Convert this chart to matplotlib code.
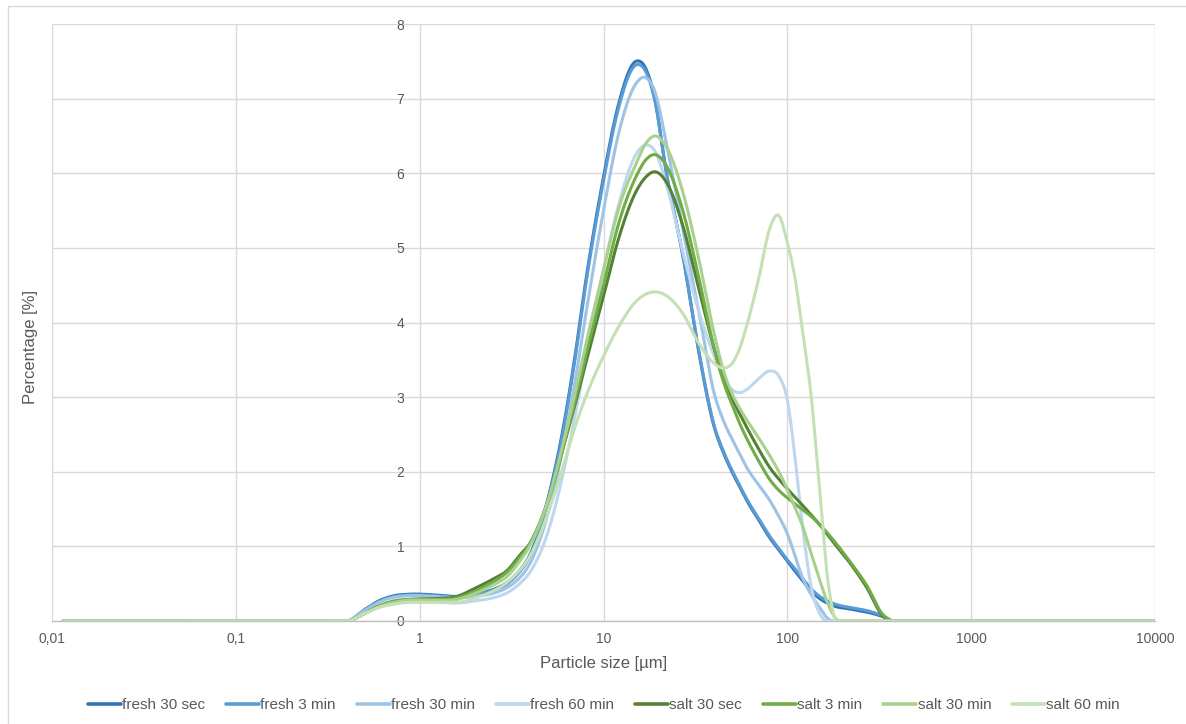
import numpy as np
import matplotlib
matplotlib.use("Agg")
import matplotlib.pyplot as plt
from matplotlib.patches import Rectangle

plt.rcParams['font.family'] = ['Liberation Sans', 'DejaVu Sans']

# ---------------- data ----------------
size_um = [0.0115, 0.4, 0.5, 0.6, 0.7, 0.9, 1.2, 1.6, 2, 2.5, 3, 3.5, 4, 5, 6, 7, 8, 10, 12, 15,
           17, 19, 22, 27, 33, 40, 45, 50, 55, 60, 70, 80, 90, 100, 110, 120, 135, 150, 165, 180,
           220, 270, 330, 380, 10000]

fresh_30sec = [0, 0, 0.15, 0.27, 0.33, 0.36, 0.35, 0.33, 0.36, 0.42, 0.52, 0.68, 0.9, 1.65, 2.55, 3.55, 4.55, 5.95, 6.9, 7.5,
               7.4, 7.0, 6.0, 4.9, 3.6, 2.6, 2.25, 2.0, 1.8, 1.62, 1.35, 1.12, 0.95, 0.8, 0.67, 0.55, 0.4, 0.3, 0.24, 0.2,
               0.16, 0.12, 0.06, 0, 0]
fresh_3min = [0, 0, 0.14, 0.26, 0.32, 0.35, 0.34, 0.32, 0.35, 0.41, 0.5, 0.66, 0.88, 1.62, 2.5, 3.5, 4.5, 5.9, 6.85, 7.45,
              7.36, 6.98, 6.0, 4.92, 3.62, 2.62, 2.27, 2.02, 1.82, 1.64, 1.37, 1.14, 0.97, 0.82, 0.7, 0.58, 0.43, 0.33, 0.27, 0.23,
              0.18, 0.14, 0.07, 0, 0]
fresh_30min = [0, 0, 0.14, 0.25, 0.31, 0.34, 0.33, 0.31, 0.33, 0.37, 0.45, 0.58, 0.78, 1.45, 2.3, 3.2, 4.1, 5.5, 6.5, 7.2,
               7.28, 7.1, 6.4, 5.25, 4.15, 3.05, 2.68, 2.44, 2.24, 2.06, 1.82, 1.62, 1.4, 1.17, 0.88, 0.6, 0.35, 0.18, 0.04, 0,
               0, 0, 0, 0, 0]
fresh_60min = [0, 0, 0.1, 0.19, 0.24, 0.27, 0.26, 0.24, 0.27, 0.31, 0.38, 0.5, 0.66, 1.2, 1.95, 2.75, 3.5, 4.7, 5.55, 6.25,
               6.38, 6.3, 5.85, 4.95, 4.15, 3.55, 3.25, 3.1, 3.06, 3.1, 3.25, 3.35, 3.28, 2.96, 2.2, 1.35, 0.45, 0.1, 0, 0,
               0, 0, 0, 0, 0]
salt_30sec = [0, 0, 0.1, 0.2, 0.25, 0.29, 0.3, 0.33, 0.44, 0.56, 0.68, 0.88, 1.05, 1.62, 2.3, 2.9, 3.45, 4.35, 5.1, 5.75,
              5.95, 6.02, 5.88, 5.3, 4.45, 3.65, 3.25, 2.98, 2.78, 2.6, 2.3, 2.06, 1.9, 1.77, 1.66, 1.56, 1.42, 1.29, 1.16, 1.04,
              0.77, 0.45, 0.07, 0, 0]
salt_3min = [0, 0, 0.1, 0.2, 0.26, 0.29, 0.29, 0.31, 0.4, 0.52, 0.66, 0.85, 1.05, 1.62, 2.3, 2.95, 3.55, 4.5, 5.3, 5.95,
             6.18, 6.25, 6.1, 5.5, 4.6, 3.65, 3.2, 2.9, 2.65, 2.45, 2.14, 1.9, 1.75, 1.65, 1.57, 1.5, 1.4, 1.29, 1.18, 1.07,
             0.79, 0.48, 0.09, 0, 0]
salt_30min = [0, 0, 0.1, 0.19, 0.24, 0.28, 0.28, 0.29, 0.37, 0.48, 0.6, 0.8, 1.02, 1.62, 2.35, 3.05, 3.7, 4.7, 5.5, 6.12,
              6.4, 6.5, 6.35, 5.75, 4.85, 3.85, 3.35, 3.05, 2.85, 2.7, 2.45, 2.22, 2.0, 1.76, 1.52, 1.3, 0.9, 0.55, 0.25, 0.06,
              0, 0, 0, 0, 0]
salt_60min = [0, 0, 0.1, 0.18, 0.22, 0.25, 0.25, 0.25, 0.31, 0.4, 0.52, 0.68, 0.88, 1.45, 2.05, 2.6, 3.0, 3.55, 3.93, 4.28,
              4.38, 4.41, 4.36, 4.12, 3.72, 3.45, 3.39, 3.45, 3.65, 3.95, 4.6, 5.25, 5.43, 5.07, 4.6, 3.95, 3.0, 1.75, 0.6, 0.05,
              0, 0, 0, 0, 0]

series_names = ["fresh 30 sec", "fresh 3 min", "fresh 30 min", "fresh 60 min",
                "salt 30 sec", "salt 3 min", "salt 30 min", "salt 60 min"]
series_values = [fresh_30sec, fresh_3min, fresh_30min, fresh_60min,
                 salt_30sec, salt_3min, salt_30min, salt_60min]
series_colors = ["#2E75B6", "#5B9BD5", "#9DC3E6", "#BDD7EE",
                 "#548235", "#70AD47", "#A9D18E", "#C5E0B4"]

x_ticks = [0.01, 0.1, 1, 10, 100, 1000, 10000]
x_tick_labels = ["0,01", "0,1", "1", "10", "100", "1000", "10000"]
y_ticks = [0, 1, 2, 3, 4, 5, 6, 7, 8]


# smoothed-line rendering: cubic Hermite in log-x with finite-difference tangents
def smooth(x, y, xn):
    x = np.asarray(x, float); y = np.asarray(y, float)
    h = np.diff(x); d = np.diff(y) / h
    n = len(x)
    m = np.zeros(n)
    for k in range(1, n - 1):
        if d[k - 1] == 0 or d[k] == 0:
            m[k] = 0.0
        else:
            m[k] = (h[k] * d[k - 1] + h[k - 1] * d[k]) / (h[k - 1] + h[k])
    idx = np.clip(np.searchsorted(x, xn) - 1, 0, n - 2)
    t = (xn - x[idx]) / h[idx]
    h00 = 2 * t**3 - 3 * t**2 + 1
    h10 = t**3 - 2 * t**2 + t
    h01 = -2 * t**3 + 3 * t**2
    h11 = t**3 - t**2
    out = h00 * y[idx] + h10 * h[idx] * m[idx] + h01 * y[idx + 1] + h11 * h[idx] * m[idx + 1]
    return np.maximum(out, 0)


fig = plt.figure(figsize=(11.86, 7.24), dpi=100)
fig.patch.set_facecolor("white")
fig.patches.append(Rectangle((8 / 1186, -0.01), 1.2, 1 - 6 / 724 + 0.01, transform=fig.transFigure,
                             fill=False, edgecolor="#D9D9D9", linewidth=1.0))

ax = fig.add_axes([52 / 1186, 1 - 621 / 724, (1155 - 52) / 1186, (621 - 24) / 724])
ax.set_xscale("log")
ax.set_xlim(0.01, 10000)
ax.set_ylim(0, 8)

u = np.log10(size_um)
un = np.linspace(u[0], u[-1], 6000)
for name, vals, col in zip(series_names, series_values, series_colors):
    yn = smooth(u, vals, un)
    ax.plot(10 ** un, yn, color=col, lw=2.2, label=name, solid_capstyle="round", zorder=3)

ax.set_xticks(x_ticks)
ax.set_xticklabels(x_tick_labels)
ax.xaxis.set_minor_locator(matplotlib.ticker.NullLocator())
ax.set_yticks(y_ticks)
ax.grid(True, color="#D9D9D9", lw=1.0, zorder=0)
ax.set_axisbelow(True)

for s in ["top", "right"]:
    ax.spines[s].set_visible(False)
ax.spines["left"].set_position(("data", 1))
ax.spines["left"].set_visible(False)
ax.spines["bottom"].set_color("#BFBFBF")
ax.spines["bottom"].set_linewidth(1.0)
ax.tick_params(axis="both", length=0, labelsize=10, colors="#595959")
ax.tick_params(axis="y", pad=11)
ax.tick_params(axis="x", pad=8)

ax.set_xlabel("Particle size [µm]", fontsize=12, color="#595959", labelpad=7)
fig.text(30 / 1186, 1 - 347 / 724, "Percentage [%]", rotation=90, fontsize=12, color="#595959",
         ha="center", va="center")

leg = fig.legend(loc="center", bbox_to_anchor=(604 / 1186, 1 - 705 / 724), ncol=8, frameon=False,
                 fontsize=11, handlelength=2.15, handletextpad=0.08, columnspacing=1.38,
                 labelcolor="#595959")
for line in leg.get_lines():
    line.set_linewidth(2.6)

fig.savefig("out.png", dpi=100, facecolor="white")
